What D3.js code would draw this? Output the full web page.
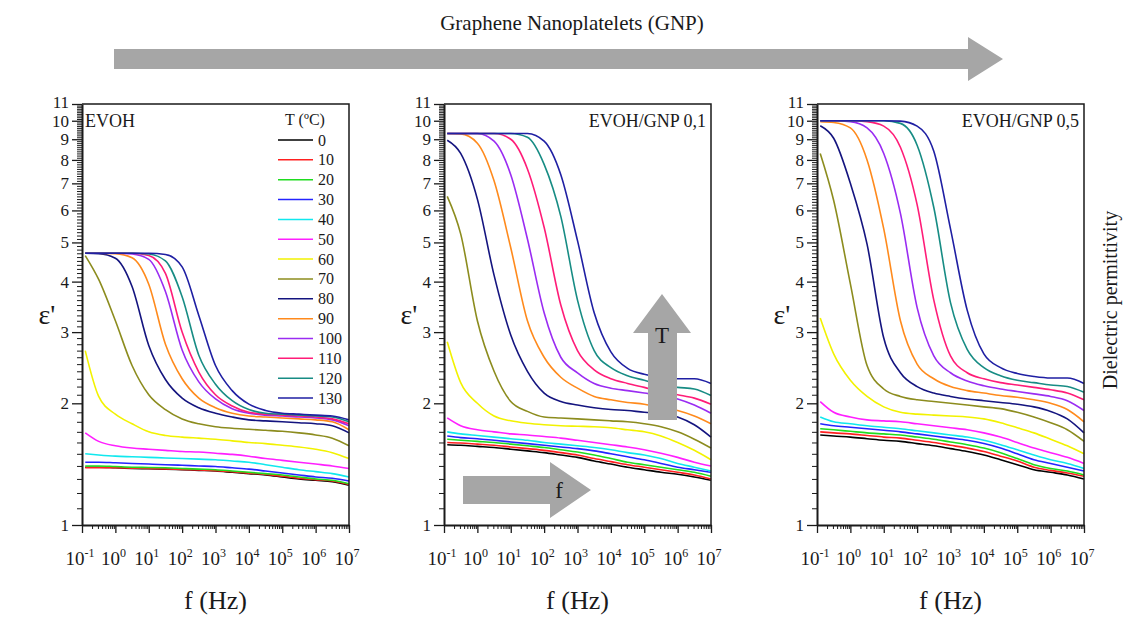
<!DOCTYPE html>
<html>
<head>
<meta charset="utf-8">
<script src="https://cdn.jsdelivr.net/npm/d3@7"></script>
<style>
body{margin:0;background:#fff;}
svg{display:block;font-family:"Liberation Serif","Times New Roman",serif;}
</style>
</head>
<body>
<div class="chart"></div>
<script>
// frequency grid the curves were read at (Hz)
var freqHz = [0.125, 0.316, 1, 3.16, 10, 31.6, 100, 316, 1e3, 3.16e3, 1e4, 3.16e4, 1e5, 3.16e5, 1e6, 3.16e6, 1e7];

var temps = [0, 10, 20, 30, 40, 50, 60, 70, 80, 90, 100, 110, 120, 130];
var tempColors = ["#000000", "#ff2020", "#1fdc1f", "#2424ff", "#10e8ee", "#ff1fff", "#f2f200", "#8c8c1e",
                  "#14147f", "#ff8a1c", "#9a2cf2", "#ff1c78", "#178c84", "#1f1fa3"];

var yTickValues = [1, 2, 3, 4, 5, 6, 7, 8, 9, 10, 11];
var xTickExps = [-1, 0, 1, 2, 3, 4, 5, 6, 7];
var panelNames = ["EVOH", "EVOH/GNP 0,1", "EVOH/GNP 0,5"];

// permittivity, one row per temperature (0 .. 130 ºC)
var evoh = [
    [1.39,1.39,1.385,1.38,1.378,1.375,1.37,1.365,1.36,1.35,1.34,1.33,1.315,1.30,1.29,1.28,1.255],
    [1.385,1.385,1.385,1.382,1.38,1.377,1.372,1.368,1.362,1.354,1.344,1.334,1.32,1.305,1.295,1.285,1.26],
    [1.40,1.40,1.395,1.39,1.388,1.385,1.38,1.375,1.37,1.36,1.35,1.34,1.33,1.315,1.30,1.29,1.265],
    [1.43,1.43,1.425,1.42,1.415,1.41,1.405,1.40,1.395,1.385,1.375,1.36,1.345,1.33,1.315,1.305,1.285],
    [1.50,1.49,1.48,1.475,1.47,1.465,1.46,1.455,1.45,1.44,1.43,1.41,1.39,1.37,1.355,1.34,1.315],
    [1.69,1.61,1.57,1.55,1.54,1.53,1.52,1.515,1.505,1.495,1.48,1.46,1.445,1.43,1.415,1.40,1.38],
    [2.70,2.08,1.88,1.78,1.70,1.665,1.65,1.64,1.63,1.615,1.60,1.59,1.575,1.56,1.54,1.51,1.46],
    [4.64,4.05,3.20,2.48,2.10,1.93,1.83,1.78,1.75,1.735,1.725,1.715,1.705,1.69,1.67,1.64,1.57],
    [4.70,4.69,4.57,3.89,2.78,2.29,2.06,1.95,1.89,1.85,1.82,1.81,1.80,1.79,1.78,1.76,1.69],
    [4.70,4.70,4.69,4.58,3.94,2.80,2.30,2.06,1.95,1.89,1.86,1.85,1.84,1.83,1.82,1.80,1.72],
    [4.70,4.70,4.70,4.68,4.54,3.78,2.71,2.26,2.05,1.94,1.89,1.87,1.86,1.85,1.84,1.82,1.76],
    [4.70,4.70,4.70,4.70,4.64,4.19,3.00,2.39,2.10,1.97,1.90,1.88,1.87,1.86,1.85,1.83,1.78],
    [4.70,4.70,4.70,4.70,4.68,4.50,3.67,2.63,2.23,2.03,1.93,1.89,1.88,1.87,1.86,1.85,1.80],
    [4.70,4.70,4.70,4.70,4.70,4.67,4.35,3.30,2.48,2.15,1.99,1.92,1.89,1.88,1.87,1.86,1.82]
];

var gnp01 = [
    [1.58,1.575,1.565,1.555,1.54,1.525,1.51,1.49,1.47,1.44,1.415,1.39,1.37,1.35,1.335,1.315,1.29],
    [1.60,1.595,1.585,1.575,1.56,1.545,1.53,1.51,1.49,1.46,1.435,1.41,1.39,1.37,1.35,1.33,1.30],
    [1.63,1.62,1.61,1.60,1.585,1.57,1.555,1.535,1.515,1.49,1.46,1.43,1.41,1.39,1.37,1.35,1.32],
    [1.66,1.645,1.635,1.62,1.605,1.59,1.575,1.56,1.545,1.525,1.50,1.475,1.45,1.42,1.39,1.37,1.35],
    [1.70,1.68,1.665,1.65,1.635,1.62,1.60,1.585,1.57,1.555,1.535,1.51,1.49,1.46,1.42,1.39,1.36],
    [1.84,1.76,1.72,1.70,1.68,1.67,1.655,1.64,1.62,1.60,1.58,1.56,1.535,1.505,1.47,1.43,1.40],
    [2.84,2.25,2.00,1.86,1.81,1.785,1.77,1.76,1.755,1.75,1.74,1.72,1.70,1.66,1.60,1.53,1.45],
    [6.50,5.25,3.20,2.40,2.02,1.91,1.85,1.84,1.83,1.82,1.81,1.80,1.78,1.75,1.70,1.63,1.55],
    [8.95,8.30,6.40,4.15,2.95,2.40,2.12,2.02,1.98,1.95,1.93,1.92,1.90,1.89,1.85,1.77,1.65],
    [9.30,9.28,8.80,7.10,4.85,3.20,2.60,2.32,2.18,2.08,2.04,2.01,1.99,1.95,1.92,1.86,1.78],
    [9.30,9.30,9.30,8.90,7.35,5.10,3.35,2.60,2.38,2.24,2.18,2.15,2.12,2.09,2.05,1.98,1.89],
    [9.30,9.30,9.30,9.30,9.00,7.60,5.45,3.50,2.70,2.42,2.30,2.24,2.19,2.14,2.10,2.06,1.99],
    [9.30,9.30,9.30,9.30,9.30,9.10,7.80,5.80,3.60,2.70,2.45,2.34,2.28,2.22,2.19,2.17,2.09],
    [9.30,9.30,9.30,9.30,9.30,9.30,8.90,7.35,5.05,3.35,2.68,2.44,2.36,2.32,2.30,2.30,2.24]
];

var gnp05 = [
    [1.67,1.66,1.65,1.635,1.62,1.61,1.59,1.57,1.545,1.52,1.49,1.45,1.41,1.37,1.35,1.33,1.30],
    [1.70,1.69,1.68,1.665,1.65,1.64,1.62,1.60,1.575,1.55,1.52,1.48,1.44,1.39,1.365,1.345,1.32],
    [1.73,1.72,1.705,1.69,1.68,1.67,1.65,1.63,1.605,1.58,1.55,1.51,1.46,1.41,1.38,1.36,1.33],
    [1.78,1.76,1.745,1.73,1.715,1.70,1.68,1.66,1.64,1.62,1.59,1.55,1.50,1.45,1.42,1.39,1.36],
    [1.85,1.80,1.78,1.76,1.745,1.73,1.71,1.69,1.67,1.65,1.62,1.58,1.535,1.49,1.45,1.42,1.38],
    [2.02,1.90,1.85,1.82,1.81,1.80,1.78,1.76,1.74,1.72,1.69,1.65,1.60,1.55,1.51,1.47,1.42],
    [3.25,2.65,2.28,2.08,1.96,1.90,1.88,1.87,1.86,1.85,1.83,1.79,1.74,1.69,1.63,1.57,1.50],
    [8.30,6.35,3.95,2.48,2.17,2.08,2.04,2.02,2.00,1.98,1.96,1.94,1.90,1.85,1.79,1.72,1.61],
    [9.72,9.05,7.00,4.95,2.90,2.38,2.20,2.12,2.08,2.05,2.03,2.01,1.99,1.96,1.91,1.83,1.69],
    [9.95,9.90,9.60,8.00,5.40,3.20,2.50,2.30,2.20,2.15,2.12,2.09,2.07,2.04,2.00,1.93,1.80],
    [10.0,10.0,9.95,9.60,8.30,5.90,3.45,2.62,2.38,2.27,2.21,2.17,2.14,2.11,2.08,2.03,1.92],
    [10.0,10.0,10.0,9.95,9.70,8.60,6.20,3.60,2.62,2.38,2.30,2.25,2.22,2.19,2.16,2.12,2.04],
    [10.0,10.0,10.0,10.0,10.0,9.85,8.70,6.10,3.55,2.72,2.45,2.34,2.28,2.25,2.22,2.20,2.13],
    [10.0,10.0,10.0,10.0,10.0,9.98,9.70,8.40,5.40,3.40,2.65,2.45,2.37,2.33,2.31,2.31,2.24]
];

var panelData = [evoh, gnp01, gnp05];

var w = 1131;
var h = 622;
var panelLeft = [82, 444, 817];
var panelW = 267;
var yTop = 104;
var yBottom = 525;
var arrowGray = "#a6a6a6";
var ink = "#1a1a1a";

var svg = d3.select(".chart")
            .append("svg")
            .attr("width", w)
            .attr("height", h);

svg.append("rect").attr("width", w).attr("height", h).attr("fill", "#fff");

// big GNP arrow on top
svg.append("text")
    .attr("x", 572)
    .attr("y", 30)
    .attr("text-anchor", "middle")
    .attr("font-size", "21px")
    .attr("fill", ink)
    .text("Graphene Nanoplatelets (GNP)");

svg.append("path")
    .attr("d", "M114,49 H968 V37 L1003,59 L968,81 V69 H114 Z")
    .attr("fill", arrowGray);

// right side title
svg.append("text")
    .attr("transform", "translate(1117,300) rotate(-90)")
    .attr("text-anchor", "middle")
    .attr("font-size", "20px")
    .attr("fill", ink)
    .text("Dielectric permittivity");

var yScale = d3.scaleLog()
                .domain([1, 11])
                .range([yBottom, yTop]);

var yMinor = d3.range(1.1, 11, 0.1).filter(function(v){
    return Math.abs(v - Math.round(v)) > 0.02;
});

panelData.forEach(function(rows, p){
    var left = panelLeft[p];
    var xScale = d3.scaleLog()
                    .domain([0.1, 1e7])
                    .range([left, left + panelW]);

    var g = svg.append("g");

    var line = d3.line()
                 .x(function(d, i){ return xScale(freqHz[i]); })
                 .y(function(d){ return yScale(d); })
                 .curve(d3.curveMonotoneX);

    //curves, coldest first
    rows.forEach(function(vals, i){
        g.append("path")
            .datum(vals)
            .attr("d", line)
            .attr("fill", "none")
            .attr("stroke", tempColors[i])
            .attr("stroke-width", 1.6);
    });

    //frame top and right
    g.append("path")
        .attr("d", "M" + left + "," + yTop + "H" + (left + panelW) + "V" + yBottom)
        .attr("fill", "none")
        .attr("stroke", ink)
        .attr("stroke-width", 1.5);

    //x axis: decades + minor ticks
    var xMinor = [];
    xTickExps.slice(0, -1).forEach(function(e){
        for(var k = 2; k < 10; k++){ xMinor.push(k * Math.pow(10, e)); }
    });

    g.append("g")
        .attr("transform", "translate(0," + yBottom + ")")
        .call(d3.axisBottom(xScale).tickValues(xMinor).tickSize(4).tickSizeOuter(0).tickFormat(""))
        .call(function(a){ a.select(".domain").remove(); a.selectAll("line").attr("stroke", ink); });

    g.append("g")
        .attr("transform", "translate(0," + yBottom + ")")
        .call(d3.axisBottom(xScale)
                .tickValues(xTickExps.map(function(e){ return Math.pow(10, e); }))
                .tickSize(8).tickSizeOuter(0).tickFormat(""))
        .call(function(a){
            a.select(".domain").attr("stroke", ink).attr("stroke-width", 2);
            a.selectAll("line").attr("stroke", ink).attr("stroke-width", 1.3);
        });

    xTickExps.forEach(function(e){
        var t = g.append("text")
                 .attr("x", xScale(Math.pow(10, e)) - 2)
                 .attr("y", 565)
                 .attr("text-anchor", "middle")
                 .attr("fill", ink)
                 .attr("font-size", "19px");
        t.append("tspan").text("10");
        t.append("tspan").attr("dy", -8).attr("font-size", "12px").text(e);
    });

    //y axis: integers + dense minor ticks
    g.append("g")
        .attr("transform", "translate(" + left + ",0)")
        .call(d3.axisLeft(yScale).tickValues(yMinor).tickSize(5).tickSizeOuter(0).tickFormat(""))
        .call(function(a){ a.select(".domain").remove(); a.selectAll("line").attr("stroke", ink); });

    g.append("g")
        .attr("transform", "translate(" + left + ",0)")
        .call(d3.axisLeft(yScale).tickValues(yTickValues).tickSize(10).tickSizeOuter(0).tickPadding(3)
                .tickFormat(d3.format("d")))
        .call(function(a){
            a.select(".domain").attr("stroke", ink).attr("stroke-width", 2);
            a.selectAll("line").attr("stroke", ink).attr("stroke-width", 1.3);
            a.selectAll("text")
                .attr("fill", ink)
                .style("font-family", "Liberation Serif")
                .style("font-size", "17px");
            //11 sits very close to 10 on a log axis: lift it a little
            a.selectAll(".tick").filter(function(d){ return d == 11; }).select("text").attr("dy", "0.2em");
        });

    //axis titles
    g.append("text")
        .attr("x", left + panelW / 2)
        .attr("y", 609)
        .attr("text-anchor", "middle")
        .attr("font-size", "26px")
        .attr("fill", ink)
        .text("f (Hz)");

    g.append("text")
        .attr("x", left - 35)
        .attr("y", 324)
        .attr("text-anchor", "middle")
        .attr("font-size", "28px")
        .attr("fill", ink)
        .text("ε'");

    //sample name
    g.append("text")
        .attr("x", p == 0 ? left + 3 : left + panelW - 5)
        .attr("y", 127)
        .attr("text-anchor", p == 0 ? "start" : "end")
        .attr("font-size", "18px")
        .attr("fill", ink)
        .text(panelNames[p]);
});

//legend (first panel)
var legend = svg.append("g");
legend.append("text")
    .attr("x", 305)
    .attr("y", 125)
    .attr("text-anchor", "middle")
    .attr("font-size", "16px")
    .attr("fill", ink)
    .text("T (ºC)");

temps.forEach(function(t, i){
    var yy = 140 + i * 19.85;
    legend.append("line")
        .attr("x1", 278).attr("x2", 313)
        .attr("y1", yy).attr("y2", yy)
        .attr("stroke", tempColors[i])
        .attr("stroke-width", 1.5);
    legend.append("text")
        .attr("x", 318)
        .attr("y", yy + 5.5)
        .attr("font-size", "16px")
        .attr("fill", ink)
        .text(t);
});

//T and f arrows in the middle panel
svg.append("path")
    .attr("d", "M648,420 V333 H633 L662,294 L691,333 H677 V420 Z")
    .attr("fill", arrowGray);
svg.append("text")
    .attr("x", 662).attr("y", 343)
    .attr("text-anchor", "middle")
    .attr("font-size", "23px")
    .attr("fill", ink)
    .text("T");

svg.append("path")
    .attr("d", "M463,476 H550 V462 L591,490 L550,518 V504 H463 Z")
    .attr("fill", arrowGray);
svg.append("text")
    .attr("x", 559).attr("y", 498)
    .attr("text-anchor", "middle")
    .attr("font-size", "23px")
    .attr("fill", ink)
    .text("f");
</script>
</body>
</html>
